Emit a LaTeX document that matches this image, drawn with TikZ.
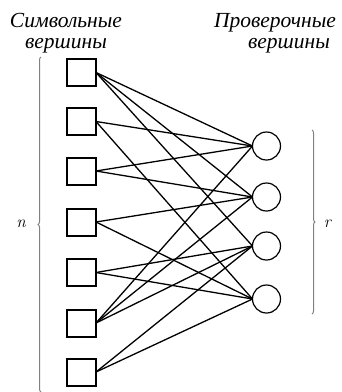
\documentclass[tikz,border=0pt]{standalone}
\usepackage{fontspec}
\newfontfamily\ttlfont{Liberation Serif}
\usetikzlibrary{decorations.pathreplacing}
\begin{document}
\begin{tikzpicture}[x=1pt,y=-1pt,
  sym/.style={draw, line width=2pt, minimum width=29pt, minimum height=27pt, inner sep=0pt, outer sep=0pt},
  chk/.style={draw, circle, line width=1.2pt, minimum size=28pt, inner sep=0pt, outer sep=0pt},
  lnk/.style={line width=1.3pt},
  brc/.style={draw=black!50, line width=1pt, decorate, decoration={brace, amplitude=3pt}},
  ttl/.style={font=\ttlfont\itshape\fontsize{21.5}{24}\selectfont, anchor=base, inner sep=0pt},
  lbl/.style={font=\itshape\fontsize{17}{19}\selectfont, inner sep=0pt}
]
\useasboundingbox (0,0) rectangle (341,392);
\fill[white] (0,0) rectangle (341,392);

\node[ttl] (ta1) at (66,27) {Символьные};
\node[ttl] (ta2) at (66,48) {вершины};
\node[ttl] (tb1) at (275,27) {Проверочные};
\node[ttl] (tb2) at (289,48) {вершины};

\foreach \i/\y in {1/72.5,2/121.5,3/171,4/222,5/272.5,6/323,7/372}
  \node[sym] (s\i) at (81.5,\y) {};
\foreach \j/\y in {1/146,2/197,3/246,4/299}
  \node[chk] (c\j) at (266.5,\y) {};

\foreach \a/\b in {1/1,1/2,1/3,2/1,2/4,3/1,3/2,4/2,4/4,5/3,5/4,6/1,6/2,6/3,7/3,7/4}
  \draw[lnk] (s\a.east) -- (c\b.west);

\coordinate (nb) at (41,392);
\coordinate (nt) at (41,57);
\draw[brc] (nb) -- (nt);
\coordinate (rt) at (312,130);
\coordinate (rb) at (312,314);
\draw[brc] (rt) -- (rb);
\node[lbl, anchor=base] (n) at (21,227) {n};
\node[lbl, anchor=base] (r) at (327.5,227) {r};
\end{tikzpicture}
\end{document}
